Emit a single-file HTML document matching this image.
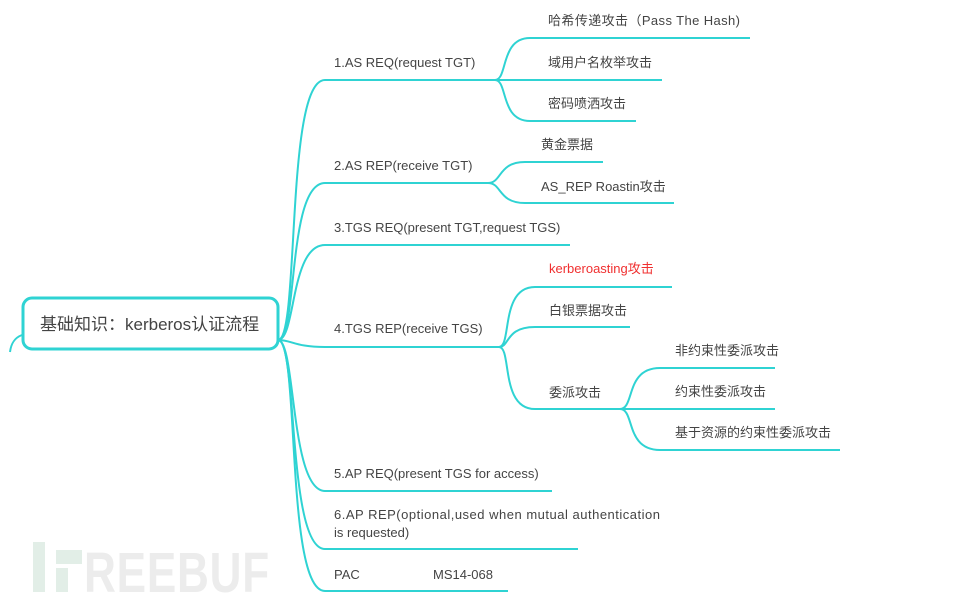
<!DOCTYPE html>
<html><head><meta charset="utf-8"><style>
body{margin:0;background:#fff;}
svg{display:block;}
text{font-family:"Liberation Sans","Noto Sans CJK SC",sans-serif;font-size:13px;fill:#444;}
</style></head><body>
<svg width="957" height="612" viewBox="0 0 957 612">
<g fill="none" stroke="#2fd3d3" stroke-width="2">
<path d="M22,335 C14,338 11,344 10,352"/>
<path d="M278,340 C300,340 285,80 325,80 L495,80"/>
<path d="M278,340 C298,340 287,183 325,183 L488,183"/>
<path d="M278,340 C296,340 290,245 325,245 L570,245"/>
<path d="M278,340 C292,340 295,347 325,347 L499,347"/>
<path d="M278,340 C296,340 290,491 325,491 L552,491"/>
<path d="M278,340 C298,340 287,549 325,549 L578,549"/>
<path d="M278,340 C300,340 285,591 325,591 L508,591"/>
<path d="M495,80 C508,80 500,38 530,38 L750,38"/>
<path d="M495,80 L662,80"/>
<path d="M495,80 C508,80 500,121 530,121 L636,121"/>
<path d="M488,183 C502,183 498,162 525,162 L603,162"/>
<path d="M488,183 C502,183 498,203 525,203 L674,203"/>
<path d="M499,347 C512,347 500,287 535,287 L672,287"/>
<path d="M499,347 C510,347 505,327 535,327 L630,327"/>
<path d="M499,347 C512,347 500,409 535,409 L625,409"/>
<path d="M620,409 C635,409 625,368 660,368 L775,368"/>
<path d="M620,409 L775,409"/>
<path d="M620,409 C635,409 625,450 660,450 L840,450"/>
</g>
<rect x="23" y="298" width="255" height="51" rx="9" fill="#fff" stroke="#2fd3d3" stroke-width="3"/>
<text x="40" y="330" style="font-size:17px">基础知识：kerberos认证流程</text>

<text x="334" y="67">1.AS REQ(request TGT)</text>
<text x="548" y="25" textLength="192">哈希传递攻击（Pass The Hash)</text>
<text x="548" y="67">域用户名枚举攻击</text>
<text x="548" y="108">密码喷洒攻击</text>
<text x="334" y="170">2.AS REP(receive TGT)</text>
<text x="541" y="149">黄金票据</text>
<text x="541" y="191">AS_REP Roastin攻击</text>
<text x="334" y="232">3.TGS REQ(present TGT,request TGS)</text>
<text x="334" y="333">4.TGS REP(receive TGS)</text>
<text x="549" y="273" style="fill:#f03030">kerberoasting攻击</text>
<text x="549" y="315">白银票据攻击</text>
<text x="549" y="397">委派攻击</text>
<text x="675" y="355">非约束性委派攻击</text>
<text x="675" y="396">约束性委派攻击</text>
<text x="675" y="437">基于资源的约束性委派攻击</text>
<text x="334" y="478">5.AP REQ(present TGS for access)</text>
<text x="334" y="519" textLength="326">6.AP REP(optional,used when mutual authentication</text>
<text x="334" y="537">is requested)</text>
<text x="334" y="579">PAC</text>
<text x="433" y="579">MS14-068</text>
<rect x="33" y="542" width="12" height="50" fill="#e2eee7"/>
<rect x="56" y="550" width="26" height="14" fill="#e2eee7"/>
<rect x="56" y="568" width="12" height="24" fill="#e2eee7"/>
<text x="84" y="592" style="font-size:57px;font-weight:bold;fill:#ececec;letter-spacing:1px" textLength="186" lengthAdjust="spacingAndGlyphs">REEBUF</text>
</svg>
</body></html>
